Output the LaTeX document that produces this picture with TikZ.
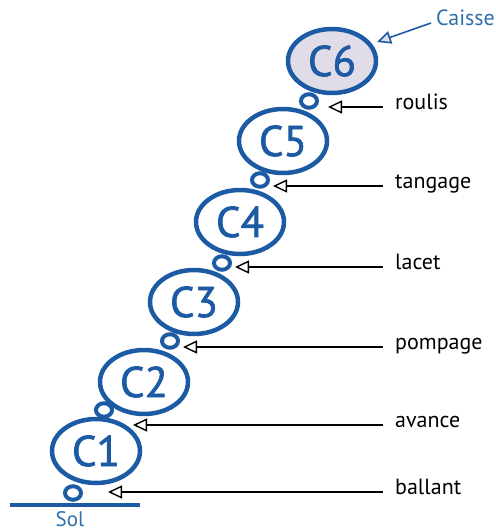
\documentclass[tikz,border=0pt]{standalone}
\usepackage{fontspec}
\setmainfont{PT Sans}
\newfontfamily\segfont[FakeBold=1.6]{PT Sans}
\usetikzlibrary{shapes.geometric,arrows.meta}
\definecolor{bleu}{RGB}{28,91,164}
\definecolor{bleuclair}{RGB}{46,112,172}
\definecolor{caissefond}{RGB}{224,220,232}

\begin{document}
\begin{tikzpicture}[x=1pt,y=-1pt,
    seg/.style={shape=ellipse, draw=bleu, line width=4.5pt, minimum width=88pt, minimum height=64pt, inner sep=0pt, text=bleu, font=\segfont\fontsize{43pt}{46pt}\selectfont},
    joint/.style={shape=ellipse, draw=bleu, line width=4pt, minimum width=16pt, minimum height=13.5pt, inner sep=0pt},
    lbl/.style={anchor=mid west, inner sep=0pt, font=\fontsize{22pt}{26pt}\selectfont},
    fleche/.style={line width=1.4pt, -{Triangle[open, length=14pt, width=13pt]}},
  ]
    \useasboundingbox (0,0) rectangle (496,531);
    % sol
    \draw[bleu, line width=3.5pt] (10,505) -- (140,505);
    \node[text=bleuclair, font=\fontsize{21pt}{24pt}\selectfont, inner sep=1pt] (sol) at (70,519) {Sol};
    % corps
    \node[seg] (c1) at (96,451) {C1};
    \node[seg] (c2) at (144,382) {C2};
    \node[seg] (c3) at (194,302) {C3};
    \node[seg] (c4) at (240,222) {C4};
    \node[seg] (c5) at (283,141) {C5};
    \node[seg, fill=caissefond] (c6) at (332,61) {C6};
    % liaisons
    \node[joint] (j0) at (73,493) {};
    \node[joint] (j1) at (104,410) {};
    \node[joint] (j2) at (170,341) {};
    \node[joint] (j3) at (222,263) {};
    \node[joint] (j4) at (260,180) {};
    \node[joint] (j5) at (309,101) {};
    % degres de liberte
    \coordinate (t0) at (108,492);
    \coordinate (t1) at (133,425);
    \coordinate (t2) at (183,347);
    \coordinate (t3) at (235,267);
    \coordinate (t4) at (273,186);
    \coordinate (t5) at (328,107);
    \node[lbl] (ballant) at (383,492) {\hspace{12pt}ballant};
    \node[lbl] (avance) at (383,425) {\hspace{12pt}avance};
    \node[lbl] (pompage) at (383,347) {\hspace{12pt}pompage};
    \node[lbl] (lacet) at (383,267) {\hspace{12pt}lacet};
    \node[lbl] (tangage) at (383,186) {\hspace{12pt}tangage};
    \node[lbl] (roulis) at (383,107) {\hspace{12pt}roulis};
    \draw[fleche] (ballant.mid west) -- (t0);
    \draw[fleche] (avance.mid west) -- (t1);
    \draw[fleche] (pompage.mid west) -- (t2);
    \draw[fleche] (lacet.mid west) -- (t3);
    \draw[fleche] (tangage.mid west) -- (t4);
    \draw[fleche] (roulis.mid west) -- (t5);
    % caisse
    \coordinate (t6) at (377,42);
    \node[lbl, text=bleuclair] (caisse) at (431,23) {\hspace{5pt}Caisse};
    \draw[bleu, line width=1.6pt, -{Triangle[length=14pt, width=13pt, fill=caissefond]}] (caisse.mid west) -- (t6);
\end{tikzpicture}
\end{document}
